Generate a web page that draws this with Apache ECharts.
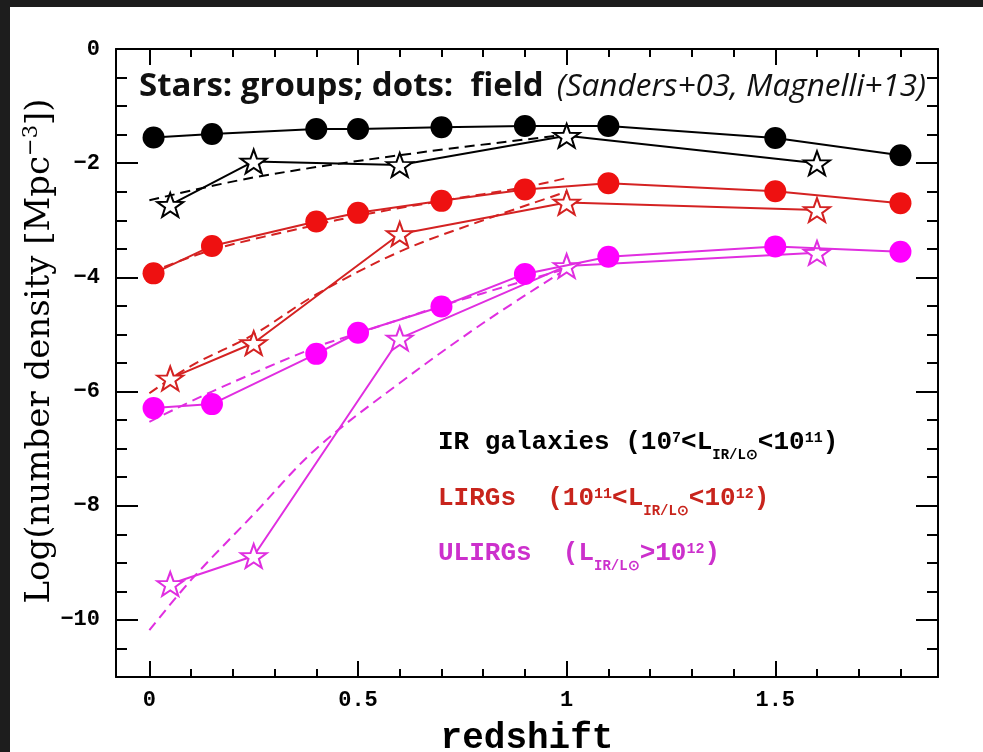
<!DOCTYPE html>
<html>
<head>
<meta charset="utf-8">
<title>IR galaxy number density vs redshift</title>
<script src="https://cdn.jsdelivr.net/npm/echarts@6/dist/echarts.min.js"></script>
<style>
  html, body { margin: 0; padding: 0; background: #1d1d1d; overflow: hidden; }
  #chart { width: 983px; height: 752px; }
</style>
</head>
<body>
<div id="chart"></div>
<script>
// Redshift sampling of the field (dots) and group (stars) measurements
const zField  = [0.01, 0.15, 0.4, 0.5, 0.7, 0.9, 1.1, 1.5, 1.8];
const zGroups = [0.05, 0.25, 0.6, 1.0, 1.6];

// Log number density [Mpc^-3] in the field
const irField    = [-1.55, -1.49, -1.40, -1.40, -1.37, -1.35, -1.35, -1.56, -1.86];
const lirgField  = [-3.93, -3.45, -3.02, -2.87, -2.66, -2.46, -2.35, -2.49, -2.70];
const ulirgField = [-6.29, -6.22, -5.34, -4.97, -4.51, -3.94, -3.64, -3.46, -3.55];

// Log number density [Mpc^-3] in groups
const irGroups    = [-2.73, -1.97, -2.03, -1.52, -2.00];
const lirgGroups  = [-5.77, -5.15, -3.24, -2.69, -2.82];
const ulirgGroups = [-9.37, -8.88, -5.07, -3.80, -3.57];

// Evolution fits (dashed curves)
const zFitIrGroups     = [0, 0.25, 0.6, 1.0];
const fitIrGroups      = [-2.65, -2.25, -1.86, -1.50];
const zFitLirgField    = [0, 0.15, 0.4, 0.5, 0.7, 0.9, 1.0];
const fitLirgField     = [-3.92, -3.52, -3.08, -2.92, -2.66, -2.42, -2.26];
const zFitLirgGroups   = [0, 0.1, 0.25, 0.4, 0.6, 0.8, 1.0];
const fitLirgGroups    = [-6.03, -5.55, -5.00, -4.30, -3.55, -3.00, -2.50];
const zFitUlirgField   = [0, 0.15, 0.4, 0.5, 0.7, 0.9, 1.0];
const fitUlirgField    = [-6.53, -6.00, -5.22, -4.98, -4.50, -4.06, -3.85];
const zFitUlirgGroups  = [0, 0.1, 0.25, 0.4, 0.6, 0.8, 1.0];
const fitUlirgGroups   = [-10.18, -9.30, -8.15, -7.00, -5.85, -4.80, -3.85];

// Axis ticks and labels
const xMajorTicks = [0, 0.5, 1, 1.5];
const xTickLabels = ['0', '0.5', '1', '1.5'];
const xMinorTicks = [0.1, 0.2, 0.3, 0.4, 0.6, 0.7, 0.8, 0.9, 1.1, 1.2, 1.3, 1.4, 1.6, 1.7, 1.8];
const yMajorTicks = [0, -2, -4, -6, -8, -10];
const yTickLabels = ['0', '\u22122', '\u22124', '\u22126', '\u22128', '\u221210'];
const yMinorTicks = [-0.5, -1, -1.5, -2.5, -3, -3.5, -4.5, -5, -5.5, -6.5, -7, -7.5,
                     -8.5, -9, -9.5, -10.5];

const C_BLACK = '#000000';
const C_RED_DOT = '#ee1111';
const C_RED_LINE = '#d42222';
const C_MAG_DOT = '#ff00ff';
const C_MAG_LINE = '#e02ee0';

const STAR = 'path://M0,-10 L2.35,-3.24 L9.51,-3.09 L3.8,1.24 L5.88,8.09 L0,4 L-5.88,8.09 L-3.8,1.24 L-9.51,-3.09 L-2.35,-3.24 Z';

const pairs = (xs, ys) => xs.map((x, i) => [x, ys[i]]);

const X_MIN = -0.08, X_MAX = 1.89, Y_MIN = -11, Y_MAX = 0;
const tickFont = { fontFamily: 'Liberation Mono', fontWeight: 'bold', fontSize: 22, color: '#000' };

function xAxis(position, ticks, len, withLine, withLabels) {
  return {
    type: 'value', position: position, min: X_MIN, max: X_MAX,
    splitLine: { show: false },
    axisLine: { show: withLine, onZero: false, lineStyle: { color: '#000', width: 2 } },
    axisTick: { show: true, inside: true, length: len, customValues: ticks,
                lineStyle: { color: '#000', width: 2 } },
    axisLabel: withLabels ? Object.assign({
      show: true, margin: 12, customValues: ticks,
      formatter: v => xTickLabels[xMajorTicks.findIndex(t => Math.abs(t - v) < 1e-6)]
    }, tickFont) : { show: false }
  };
}

function yAxis(position, ticks, len, withLine, withLabels) {
  return {
    type: 'value', position: position, min: Y_MIN, max: Y_MAX,
    splitLine: { show: false },
    axisLine: { show: withLine, onZero: false, lineStyle: { color: '#000', width: 2 } },
    axisTick: { show: true, inside: true, length: len, customValues: ticks,
                lineStyle: { color: '#000', width: 2 } },
    axisLabel: withLabels ? Object.assign({
      show: true, margin: 16, customValues: ticks,
      formatter: v => yTickLabels[yMajorTicks.findIndex(t => Math.abs(t - v) < 1e-6)]
    }, tickFont) : { show: false }
  };
}

function fieldSeries(xs, ys, dot, line) {
  return {
    type: 'line', data: pairs(xs, ys), xAxisIndex: 0, yAxisIndex: 0,
    symbol: 'circle', symbolSize: 22, z: 5,
    itemStyle: { color: dot, borderWidth: 0 },
    lineStyle: { color: line, width: 2 },
    emphasis: { disabled: true }, animation: false
  };
}

function groupSeries(xs, ys, line) {
  return {
    type: 'line', data: pairs(xs, ys), xAxisIndex: 0, yAxisIndex: 0,
    symbol: STAR, symbolSize: [26, 25], symbolKeepAspect: true, z: 4,
    itemStyle: { color: '#ffffff', borderColor: line, borderWidth: 2 },
    lineStyle: { color: line, width: 2 },
    emphasis: { disabled: true }, animation: false
  };
}

function fitSeries(xs, ys, line) {
  return {
    type: 'line', data: pairs(xs, ys), xAxisIndex: 0, yAxisIndex: 0,
    symbol: 'none', smooth: 0.35, z: 3,
    lineStyle: { color: line, width: 2, type: [10, 6] },
    emphasis: { disabled: true }, animation: false
  };
}

const legendRich = (color) => ({
  m:  { fontFamily: 'Liberation Mono', fontWeight: 'bold', fontSize: 26, fill: color },
  sp: { fontFamily: 'Liberation Mono', fontWeight: 'bold', fontSize: 15, fill: color, padding: [0, 0, 8, 0] },
  sb: { fontFamily: 'Liberation Mono', fontWeight: 'bold', fontSize: 14, fill: color, padding: [26, 0, 0, 0] }
});

const chart = echarts.init(document.getElementById('chart'), null, { renderer: 'canvas' });

chart.setOption({
  backgroundColor: 'transparent',
  animation: false,
  grid: { left: 116, right: 45, top: 49, bottom: 75, containLabel: false, outerBoundsMode: 'none' },
  xAxis: [
    Object.assign(xAxis('bottom', xMajorTicks, 16, true, true), {
      name: 'redshift', nameLocation: 'middle', nameGap: 44,
      nameTextStyle: { fontFamily: 'Liberation Mono', fontWeight: 'bold', fontSize: 36, color: '#000' }
    }),
    xAxis('bottom', xMinorTicks, 8, false, false),
    xAxis('top', xMajorTicks, 16, true, false),
    xAxis('top', xMinorTicks, 8, false, false)
  ],
  yAxis: [
    yAxis('left', yMajorTicks, 22, true, true),
    yAxis('left', yMinorTicks, 11, false, false),
    yAxis('right', yMajorTicks, 22, true, false),
    yAxis('right', yMinorTicks, 11, false, false)
  ],
  graphic: [
    { type: 'rect', z: -100, silent: true,
      shape: { x: 10, y: 7, width: 973, height: 745 }, style: { fill: '#ffffff' } },
    { type: 'text', silent: true, z: 10,
      x: 40, y: 351, rotation: Math.PI / 2,
      style: {
        text: '{m|Log(number density [Mpc}{s|\u22123}{m|])}',
        align: 'center', verticalAlign: 'middle', lineHeight: 44,
        rich: {
          m: { fontFamily: 'DejaVu Serif', fontSize: 34, fill: '#000' },
          s: { fontFamily: 'DejaVu Serif', fontSize: 21, fill: '#000', padding: [0, 0, 16, 0] }
        }
      } },
    { type: 'text', silent: true, z: 10, x: 139, y: 87,
      style: {
        text: '{b|Stars: groups; dots:  field}{i|(Sanders+03, Magnelli+13)}',
        verticalAlign: 'middle',
        rich: {
          b: { fontFamily: 'Open Sans', fontWeight: 'bold', fontSize: 33, fill: '#111' },
          i: { fontFamily: 'Open Sans', fontStyle: 'italic', fontSize: 31.5, fill: '#111',
               padding: [0, 0, 0, 13] }
        }
      } },
    { type: 'text', silent: true, z: 10, x: 438, y: 442,
      style: {
        text: '{m|IR galaxies (10}{sp|7}{m|<L}{sb|IR/L\u2299}{m|<10}{sp|11}{m|)}',
        verticalAlign: 'middle', lineHeight: 30, rich: legendRich('#000000')
      } },
    { type: 'text', silent: true, z: 10, x: 438, y: 498,
      style: {
        text: '{m|LIRGs  (10}{sp|11}{m|<L}{sb|IR/L\u2299}{m|<10}{sp|12}{m|)}',
        verticalAlign: 'middle', lineHeight: 30, rich: legendRich('#c8241c')
      } },
    { type: 'text', silent: true, z: 10, x: 438, y: 553,
      style: {
        text: '{m|ULIRGs  (L}{sb|IR/L\u2299}{m|>10}{sp|12}{m|)}',
        verticalAlign: 'middle', lineHeight: 30, rich: legendRich('#cc30cc')
      } }
  ],
  series: [
    fitSeries(zFitIrGroups, fitIrGroups, C_BLACK),
    fitSeries(zFitLirgField, fitLirgField, C_RED_LINE),
    fitSeries(zFitLirgGroups, fitLirgGroups, C_RED_LINE),
    fitSeries(zFitUlirgField, fitUlirgField, C_MAG_LINE),
    fitSeries(zFitUlirgGroups, fitUlirgGroups, C_MAG_LINE),
    groupSeries(zGroups, irGroups, C_BLACK),
    groupSeries(zGroups, lirgGroups, C_RED_LINE),
    groupSeries(zGroups, ulirgGroups, C_MAG_LINE),
    fieldSeries(zField, irField, C_BLACK, C_BLACK),
    fieldSeries(zField, lirgField, C_RED_DOT, C_RED_LINE),
    fieldSeries(zField, ulirgField, C_MAG_DOT, C_MAG_LINE)
  ]
});
</script>
</body>
</html>
